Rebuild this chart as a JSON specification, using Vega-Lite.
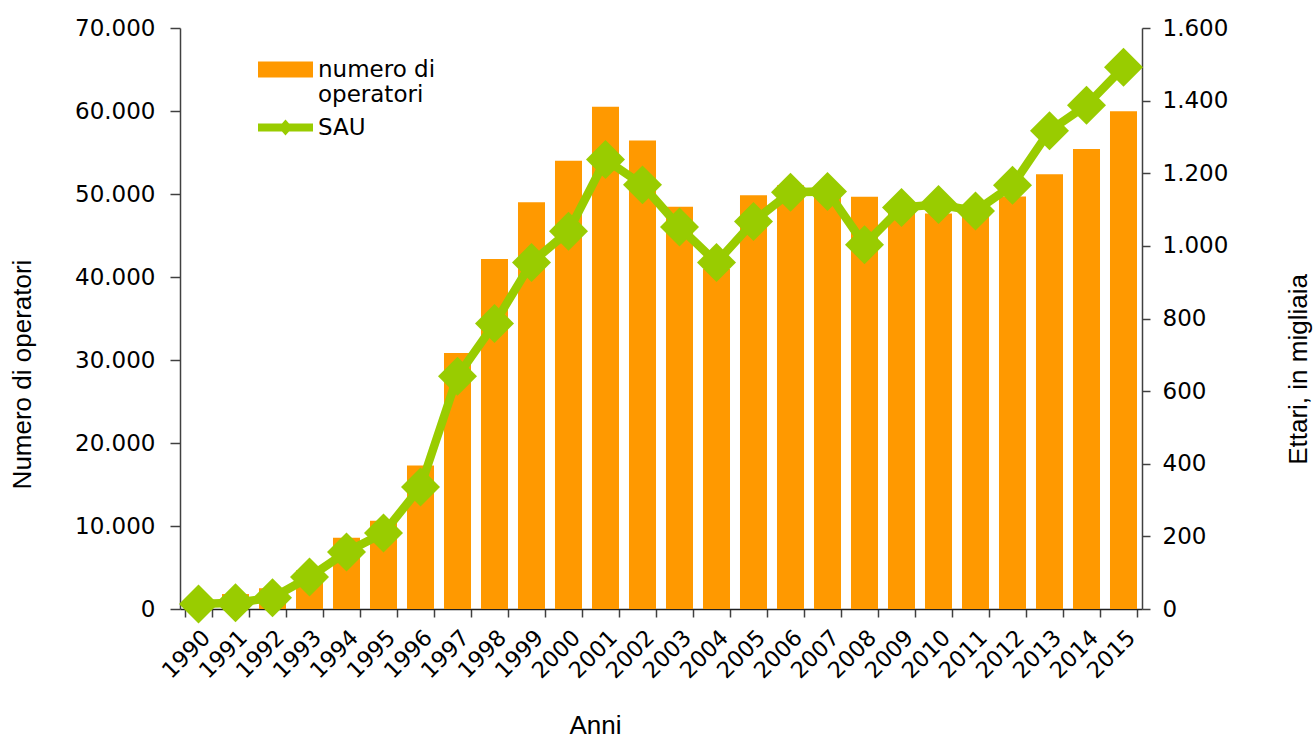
{
  "$schema": "https://vega.github.io/schema/vega-lite/v6.json",
  "width": 962,
  "height": 581,
  "autosize": {"type": "none"},
  "padding": {"left": 180, "top": 28, "right": 173, "bottom": 129},
  "config": {
    "view": {"stroke": null},
    "font": "DejaVu Sans",
    "locale": {"number": {"decimal": ",", "thousands": ".", "grouping": [3], "currency": ["", " €"]}},
    "axis": {
      "domainColor": "#404040",
      "domainWidth": 1.5,
      "tickColor": "#404040",
      "tickWidth": 1.5,
      "labelColor": "#000000",
      "titleColor": "#000000",
      "grid": false,
      "labelFont": "DejaVu Sans",
      "titleFont": "Liberation Sans",
      "titleFontWeight": "normal"
    }
  },
  "data": {
    "values": [
      {"anno": "1990", "operatori": 1300, "sau": 14},
      {"anno": "1991", "operatori": 1800, "sau": 17},
      {"anno": "1992", "operatori": 2500, "sau": 31},
      {"anno": "1993", "operatori": 4656, "sau": 88},
      {"anno": "1994", "operatori": 8580, "sau": 157},
      {"anno": "1995", "operatori": 10630, "sau": 209},
      {"anno": "1996", "operatori": 17279, "sau": 336},
      {"anno": "1997", "operatori": 30844, "sau": 641},
      {"anno": "1998", "operatori": 42180, "sau": 786},
      {"anno": "1999", "operatori": 49018, "sau": 954},
      {"anno": "2000", "operatori": 54004, "sau": 1040},
      {"anno": "2001", "operatori": 60509, "sau": 1238},
      {"anno": "2002", "operatori": 56440, "sau": 1168},
      {"anno": "2003", "operatori": 48473, "sau": 1052},
      {"anno": "2004", "operatori": 40965, "sau": 954},
      {"anno": "2005", "operatori": 49859, "sau": 1067},
      {"anno": "2006", "operatori": 51065, "sau": 1148},
      {"anno": "2007", "operatori": 50276, "sau": 1150},
      {"anno": "2008", "operatori": 49654, "sau": 1003},
      {"anno": "2009", "operatori": 48509, "sau": 1106},
      {"anno": "2010", "operatori": 47663, "sau": 1114},
      {"anno": "2011", "operatori": 48269, "sau": 1096},
      {"anno": "2012", "operatori": 49709, "sau": 1167},
      {"anno": "2013", "operatori": 52383, "sau": 1317},
      {"anno": "2014", "operatori": 55433, "sau": 1387},
      {"anno": "2015", "operatori": 59959, "sau": 1492}
    ]
  },
  "encoding": {
    "x": {
      "field": "anno",
      "type": "ordinal",
      "scale": {"paddingInner": 0.27, "paddingOuter": 0.135},
      "axis": {
        "title": "Anni",
        "labelAngle": -45,
        "labelFontSize": 22.5,
        "labelPadding": 9,
        "tickSize": 8,
        "tickBand": "extent",
        "domainColor": "#202020",
        "titleFontSize": 26,
        "titleX": 415,
        "titleY": 116,
        "titleBaseline": "middle",
        "titleAlign": "center"
      }
    }
  },
  "layer": [
    {
      "mark": {"type": "bar"},
      "encoding": {
        "y": {
          "field": "operatori",
          "type": "quantitative",
          "scale": {"domain": [0, 70000]},
          "axis": {
            "title": "Numero di operatori",
            "values": [0, 10000, 20000, 30000, 40000, 50000, 60000, 70000],
            "format": ",d",
            "labelFontSize": 23,
            "tickSize": 10,
            "labelPadding": 15,
            "titleFontSize": 26,
            "titleX": -158,
            "titleY": 346,
            "titleAngle": -90,
            "titleBaseline": "middle",
            "titleAlign": "center"
          }
        },
        "fill": {
          "datum": "numero di operatori",
          "type": "nominal",
          "scale": {"range": ["#FF9900"]},
          "legend": {
            "orient": "none",
            "legendX": 78,
            "legendY": 14,
            "title": null,
            "padding": 0,
            "symbolType": "M-1,-0.29L1,-0.29L1,0.29L-1,0.29Z",
            "symbolSize": 3025,
            "symbolStrokeWidth": 0,
            "labelFont": "DejaVu Sans",
            "labelFontSize": 23,
            "labelColor": "#000000",
            "labelOffset": 5,
            "labelLimit": 400,
            "labelLineHeight": 33,
            "labelExpr": "datum.label == 'numero di operatori' ? ['numero di', 'operatori'] : datum.label"
          }
        }
      }
    },
    {
      "encoding": {
        "y": {
          "field": "sau",
          "type": "quantitative",
          "scale": {"domain": [0, 1600]},
          "axis": {
            "orient": "right",
            "title": "Ettari, in migliaia",
            "values": [0, 200, 400, 600, 800, 1000, 1200, 1400, 1600],
            "format": ",d",
            "labelFontSize": 23,
            "tickSize": 8,
            "labelPadding": 12,
            "titleFontSize": 26,
            "titleX": 156,
            "titleY": 341,
            "titleAngle": -90,
            "titleBaseline": "middle",
            "titleAlign": "center"
          }
        }
      },
      "layer": [
        {
          "mark": {"type": "line", "stroke": "#99CC00", "strokeWidth": 8.5},
          "encoding": {}
        },
        {
          "mark": {"type": "point", "shape": "diamond", "filled": true, "size": 1520, "opacity": 1},
          "encoding": {
            "color": {
              "datum": "SAU",
              "type": "nominal",
              "scale": {"range": ["#99CC00"]},
              "legend": {
                "orient": "none",
                "legendX": 78,
                "legendY": 72,
                "title": null,
                "padding": 0,
                "symbolType": "M-1,-0.145L-0.1275,-0.145L0,-0.29L0.1275,-0.145L1,-0.145L1,0.145L0.1275,0.145L0,0.29L-0.1275,0.145L-1,0.145Z",
                "symbolSize": 3025,
                "symbolStrokeWidth": 0,
                "symbolOpacity": 1,
                "labelFont": "DejaVu Sans",
                "labelFontSize": 23,
                "labelColor": "#000000",
                "labelOffset": 5
              }
            }
          }
        }
      ]
    }
  ],
  "resolve": {"scale": {"y": "independent"}}
}
